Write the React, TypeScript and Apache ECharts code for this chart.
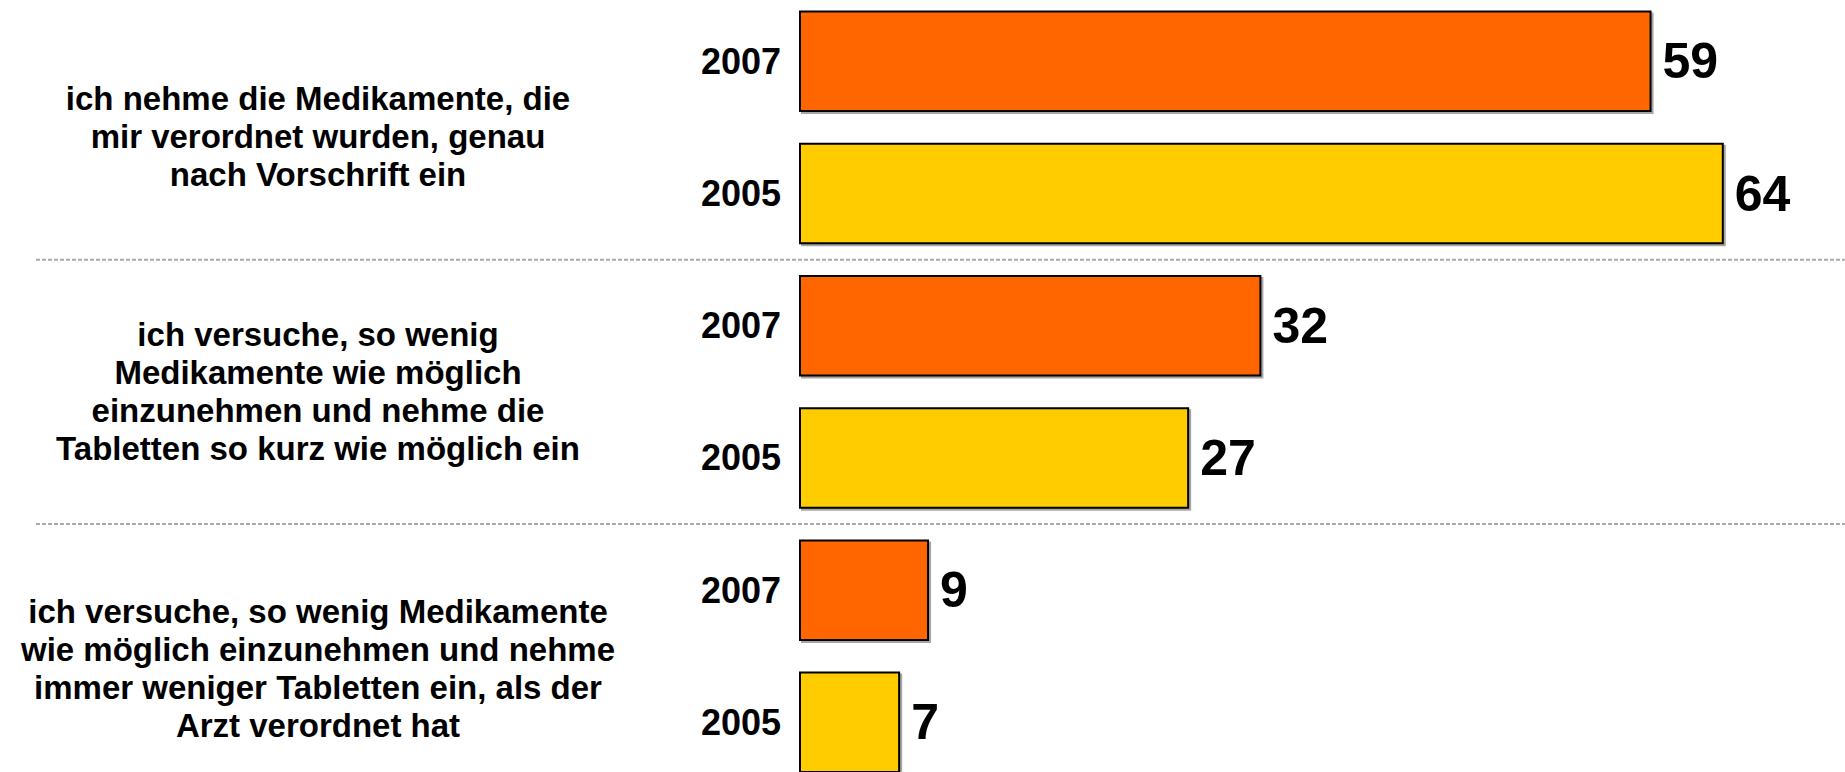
import React, { useEffect, useRef } from "react";
import * as echarts from "echarts";

// ---- data ----
const groupLabels: string[] = [
  "ich nehme die Medikamente, die\nmir verordnet wurden, genau\nnach Vorschrift ein",
  "ich versuche, so wenig\nMedikamente wie möglich\neinzunehmen und nehme die\nTabletten so kurz wie möglich ein",
  "ich versuche, so wenig Medikamente\nwie möglich einzunehmen und nehme\nimmer weniger Tabletten ein, als der\nArzt verordnet hat",
];
const years: string[] = ["2007", "2005"];
const values2007: number[] = [59, 32, 9];
const values2005: number[] = [64, 27, 7];
const yearColors: string[] = ["#FF6600", "#FFCC00"];

const FONT = "'Liberation Sans', Arial, Helvetica, sans-serif";

export default function App() {
  const ref = useRef<HTMLDivElement | null>(null);

  useEffect(() => {
    document.body.style.margin = "0";
    if (!ref.current) return;
    const chart = echarts.init(ref.current, null, { renderer: "svg" });

    const rowKeys: string[] = [];
    const rowYears: string[] = [];
    const rowData: any[] = [];
    groupLabels.forEach((_, g) => {
      const vals = [values2007[g], values2005[g]];
      years.forEach((y, k) => {
        rowKeys.push(`g${g}-${y}`);
        rowYears.push(y);
        rowData.push({ value: vals[k], itemStyle: { color: yearColors[k] } });
      });
    });

    // extra space (px) above each group label block, shifts it down by half
    const groupTopSpace = [18, 0, 24];

    const option: any = {
      animation: false,
      backgroundColor: "#ffffff",
      grid: {
        left: 799,
        top: -4.75,
        width: 1040.4,
        height: 793.2,
        containLabel: false,
        outerBoundsMode: "none",
      },
      xAxis: { type: "value", min: 0, max: 72, show: false },
      yAxis: [
        {
          type: "category",
          inverse: true,
          data: rowKeys,
          axisLine: { show: false },
          axisTick: { show: false },
          splitLine: { show: false },
          axisLabel: {
            margin: 18,
            fontSize: 36,
            fontWeight: "bold",
            fontFamily: FONT,
            color: "#000",
            formatter: (_v: string, i: number) => rowYears[i],
          },
        },
        {
          type: "category",
          inverse: true,
          position: "left",
          data: groupLabels,
          axisLine: { show: false },
          axisTick: { show: false },
          splitLine: { show: false },
          axisLabel: {
            margin: 481,
            align: "center",
            fontSize: 33,
            lineHeight: 38,
            fontWeight: "bold",
            fontFamily: FONT,
            color: "#000",
            formatter: (v: string, i: number) =>
              groupTopSpace[i] ? `{s${i}| }\n${v}` : v,
            rich: {
              s0: { fontSize: 2, lineHeight: groupTopSpace[0] },
              s2: { fontSize: 2, lineHeight: groupTopSpace[2] },
            },
          },
        },
      ],
      series: [
        {
          type: "bar",
          yAxisIndex: 0,
          barWidth: 101.5,
          data: rowData,
          itemStyle: {
            borderColor: "#000",
            borderWidth: 2,
            shadowColor: "rgba(0,0,0,0.35)",
            shadowOffsetX: 2,
            shadowOffsetY: 2,
            shadowBlur: 0,
          },
          label: {
            show: true,
            position: "right",
            distance: 11,
            fontSize: 50,
            fontWeight: "bold",
            fontFamily: FONT,
            color: "#000",
          },
        },
      ],
    };
    chart.setOption(option);

    // dividers between groups, placed via the category axis
    const lines: any[] = [];
    for (let g = 1; g < groupLabels.length; g++) {
      const a = chart.convertToPixel({ yAxisIndex: 0 }, rowKeys[g * 2 - 1]) as number;
      const b = chart.convertToPixel({ yAxisIndex: 0 }, rowKeys[g * 2]) as number;
      const y = (a + b) / 2;
      lines.push({
        type: "line",
        shape: { x1: 36, y1: y, x2: 1845, y2: y },
        style: { stroke: "#aaaaaa", lineWidth: 2, lineDash: [4, 2] },
        z: 0,
      });
    }
    chart.setOption({ graphic: lines });

    return () => chart.dispose();
  }, []);

  return <div ref={ref} style={{ width: 1845, height: 772 }} />;
}
